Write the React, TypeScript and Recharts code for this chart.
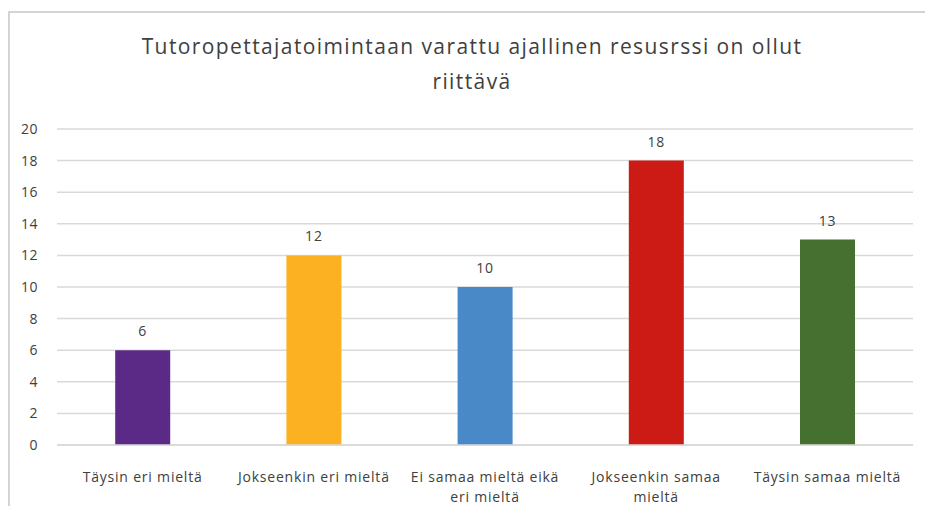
import React from 'react';
import { BarChart, Bar, XAxis, YAxis, CartesianGrid, Cell, LabelList } from 'recharts';

const categories = [
  'Täysin eri mieltä',
  'Jokseenkin eri mieltä',
  'Ei samaa mieltä eikä eri mieltä',
  'Jokseenkin samaa mieltä',
  'Täysin samaa mieltä',
];
const counts = [6, 12, 10, 18, 13];
const barColors = ['#5B2A86', '#FBB121', '#4A89C8', '#CC1A14', '#46702F'];
const tickLines = [
  ['Täysin eri mieltä'],
  ['Jokseenkin eri mieltä'],
  ['Ei samaa mieltä eikä', 'eri mieltä'],
  ['Jokseenkin samaa', 'mieltä'],
  ['Täysin samaa mieltä'],
];
const yTicks = [0, 2, 4, 6, 8, 10, 12, 14, 16, 18, 20];
const titleLines = ['Tutoropettajatoimintaan varattu ajallinen resusrssi on ollut', 'riittävä'];

const data = categories.map((name, i) => ({ name, value: counts[i], idx: i }));

const FONT = '"Open Sans", sans-serif';

function CategoryTick(props: any) {
  const { x, y, payload } = props;
  const lines = tickLines[payload.index] || [payload.value];
  return (
    <g transform={`translate(${x},${y})`}>
      {lines.map((line: string, i: number) => (
        <text
          key={i}
          x={0}
          y={29 + i * 20}
          textAnchor="middle"
          fill="#404040"
          fontSize={14}
          letterSpacing={0.8}
          fontFamily={FONT}
        >
          {line}
        </text>
      ))}
    </g>
  );
}

export default function App() {
  return (
    <div style={{ position: 'fixed', left: 0, top: 0, width: 925, height: 506, overflow: 'hidden', background: '#fff' }}>
      <div
        style={{
          position: 'absolute',
          left: 8,
          top: 11,
          width: 940,
          height: 520,
          borderTop: '2px solid #d4d4d4',
          borderLeft: '2px solid #d4d4d4',
          boxSizing: 'border-box',
        }}
      />
      <div
        style={{
          position: 'absolute',
          left: 0,
          top: 29,
          width: 944,
          textAlign: 'center',
          fontFamily: FONT,
          fontSize: 21,
          letterSpacing: 1.4,
          lineHeight: '35px',
          color: '#404040',
        }}
      >
        {titleLines.map((l, i) => (
          <div key={i}>{l}</div>
        ))}
      </div>
      <div style={{ position: 'absolute', left: 0, top: 0 }}>
        <BarChart
          width={925}
          height={506}
          data={data}
          margin={{ top: 129, right: 12, left: 0, bottom: 0 }}
          barCategoryGap="34%"
        >
          <CartesianGrid vertical={false} stroke="#d9d9d9" strokeWidth={1.5} />
          <XAxis
            dataKey="name"
            axisLine={{ stroke: '#d9d9d9', strokeWidth: 1.5 }}
            tickLine={false}
            tick={<CategoryTick />}
            interval={0}
            height={61}
          />
          <YAxis
            domain={[0, 20]}
            ticks={yTicks}
            axisLine={false}
            tickLine={false}
            width={57}
            tickSize={0}
            tickMargin={19}
            tick={{ fill: '#404040', fontSize: 14, fontFamily: FONT, letterSpacing: 0.5 }}
          />
          <Bar dataKey="value" isAnimationActive={false}>
            {data.map((d) => (
              <Cell key={d.idx} fill={barColors[d.idx]} />
            ))}
            <LabelList
              dataKey="value"
              position="top"
              offset={14}
              fill="#404040"
              fontSize={14}
              letterSpacing={0.8}
              fontFamily={FONT}
            />
          </Bar>
        </BarChart>
      </div>
    </div>
  );
}
